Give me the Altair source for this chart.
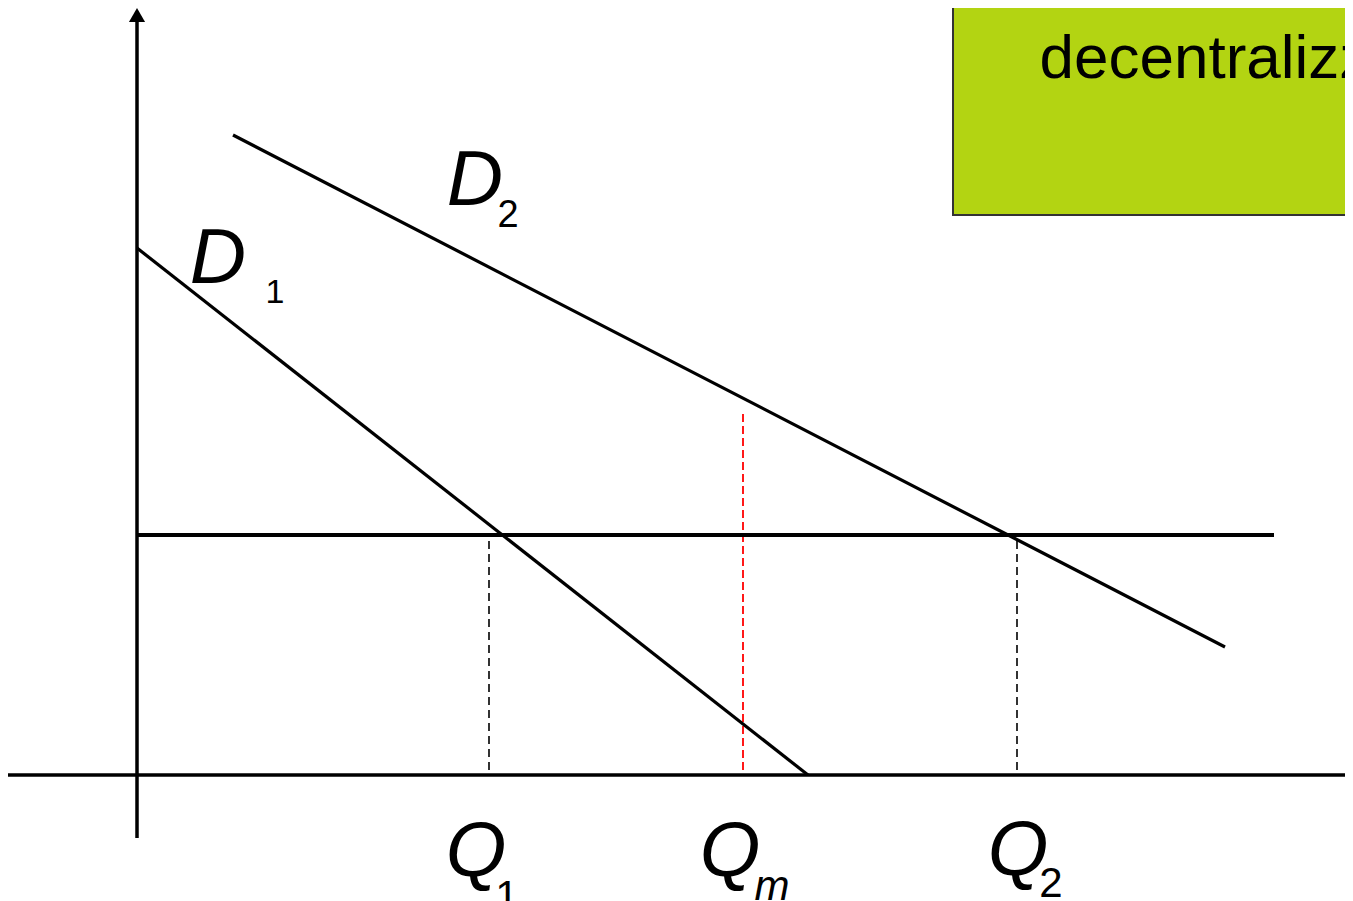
import altair as alt
import pandas as pd

# Economic diagram units: origin where the two axes cross
x_domain = [-1.29, 12.08]
y_domain = [-1.26, 7.67]

# Demand curves (quantity, price) end points
d1_q = [0.0, 6.71]
d1_p = [5.27, 0.0]
d2_q = [0.96, 10.88]
d2_p = [6.40, 1.28]

# horizontal price / cost line
price_level = 2.40
price_q = [0.0, 11.37]

# quantities marked on the horizontal axis
q_names = ["Q1", "Qm", "Q2"]
q_values = [3.52, 6.06, 8.80]
q_tops = [2.40, 3.62, 2.40]
q_bottom = 0.05

# text labels (main letters italic, subscripts upright except m)
main_text = ["D", "D", "Q", "Q", "Q", "m"]
main_x = [3.38, 0.81, 3.39, 5.93, 8.81, 6.35]
main_y = [5.70, 4.92, -1.01, -1.01, -1.00, -1.25]
main_size = [78, 78, 78, 78, 78, 42]

sub_text = ["2", "1", "1", "2"]
sub_x = [3.71, 1.38, 3.70, 9.14]
sub_y = [5.48, 4.72, -1.35, -1.22]
sub_size = [38, 34, 42, 42]

# green title box
box_x = [8.16, 13.5]
box_y = [5.60, 8.2]
box_lines = ["Soluzione", "decentralizzata"]
box_line_x = [11.11, 11.11]
box_line_y = [7.70, 6.97]

xs = alt.Scale(domain=x_domain, nice=False, zero=False)
ys = alt.Scale(domain=y_domain, nice=False, zero=False)


def X(f="x"):
    return alt.X(f"{f}:Q", scale=xs, axis=None)


def Y(f="y"):
    return alt.Y(f"{f}:Q", scale=ys, axis=None)


box_df = pd.DataFrame({"x": [box_x[0]], "x2": [box_x[1]], "y": [box_y[0]], "y2": [box_y[1]]})
box = alt.Chart(box_df).mark_rect(fill="#b3d412", stroke="#333333", strokeWidth=2, clip=False).encode(
    x=X(), x2="x2:Q", y=Y(), y2="y2:Q"
)
box_text = alt.Chart(pd.DataFrame({"t": box_lines, "x": box_line_x, "y": box_line_y})).mark_text(
    font="Liberation Sans", fontSize=62, align="center", baseline="alphabetic", color="black", clip=False
).encode(x=X(), y=Y(), text="t:N")

axes_df = pd.DataFrame({
    "x": [x_domain[0] - 0.2, 0.0],
    "x2": [x_domain[1] + 0.2, 0.0],
    "y": [0.0, -0.63],
    "y2": [0.0, 7.55],
})
axes = alt.Chart(axes_df).mark_rule(color="black", strokeWidth=3.5, clip=False).encode(
    x=X(), x2="x2:Q", y=Y(), y2="y2:Q"
)
arrow = alt.Chart(pd.DataFrame({"x": [0.0], "y": [7.60]})).mark_point(
    shape="triangle-up", filled=True, color="black", size=260, opacity=1
).encode(x=X(), y=Y())

price_df = pd.DataFrame({"x": [price_q[0]], "x2": [price_q[1]], "y": [price_level], "y2": [price_level]})
price = alt.Chart(price_df).mark_rule(color="black", strokeWidth=4).encode(
    x=X(), x2="x2:Q", y=Y(), y2="y2:Q"
)

dem_df = pd.DataFrame({
    "x": [d1_q[0], d2_q[0]],
    "x2": [d1_q[1], d2_q[1]],
    "y": [d1_p[0], d2_p[0]],
    "y2": [d1_p[1], d2_p[1]],
})
demand = alt.Chart(dem_df).mark_rule(color="black", strokeWidth=3.2).encode(
    x=X(), x2="x2:Q", y=Y(), y2="y2:Q"
)

q_df = pd.DataFrame({"name": q_names, "x": q_values, "y": [q_bottom] * 3, "y2": q_tops})
q_black = alt.Chart(q_df).transform_filter("datum.name != 'Qm'").mark_rule(
    color="black", strokeWidth=1.6, strokeDash=[8, 5]
).encode(x=X(), y=Y(), y2="y2:Q")
q_red = alt.Chart(q_df).transform_filter("datum.name == 'Qm'").mark_rule(
    color="#ff0000", strokeWidth=1.8, strokeDash=[8, 4]
).encode(x=X(), y=Y(), y2="y2:Q")

main_df = pd.DataFrame({"t": main_text, "x": main_x, "y": main_y, "s": main_size})
main_labels = alt.Chart(main_df).mark_text(
    font="Liberation Sans", fontStyle="italic", align="center", baseline="alphabetic", color="black", clip=False
).encode(x=X(), y=Y(), text="t:N", size=alt.Size("s:Q", scale=None, legend=None))

sub_df = pd.DataFrame({"t": sub_text, "x": sub_x, "y": sub_y, "s": sub_size})
sub_labels = alt.Chart(sub_df).mark_text(
    font="Liberation Sans", align="center", baseline="alphabetic", color="black", clip=False
).encode(x=X(), y=Y(), text="t:N", size=alt.Size("s:Q", scale=None, legend=None))

chart = alt.layer(
    box, box_text, q_red, q_black, price, demand, axes, arrow, main_labels, sub_labels
).properties(
    width=1337,
    height=893,
    padding=0,
    autosize=alt.AutoSizeParams(type="none"),
    background="white",
).configure_view(strokeWidth=0)

chart.save("out.html", embed_options={"renderer": "svg", "actions": False})
